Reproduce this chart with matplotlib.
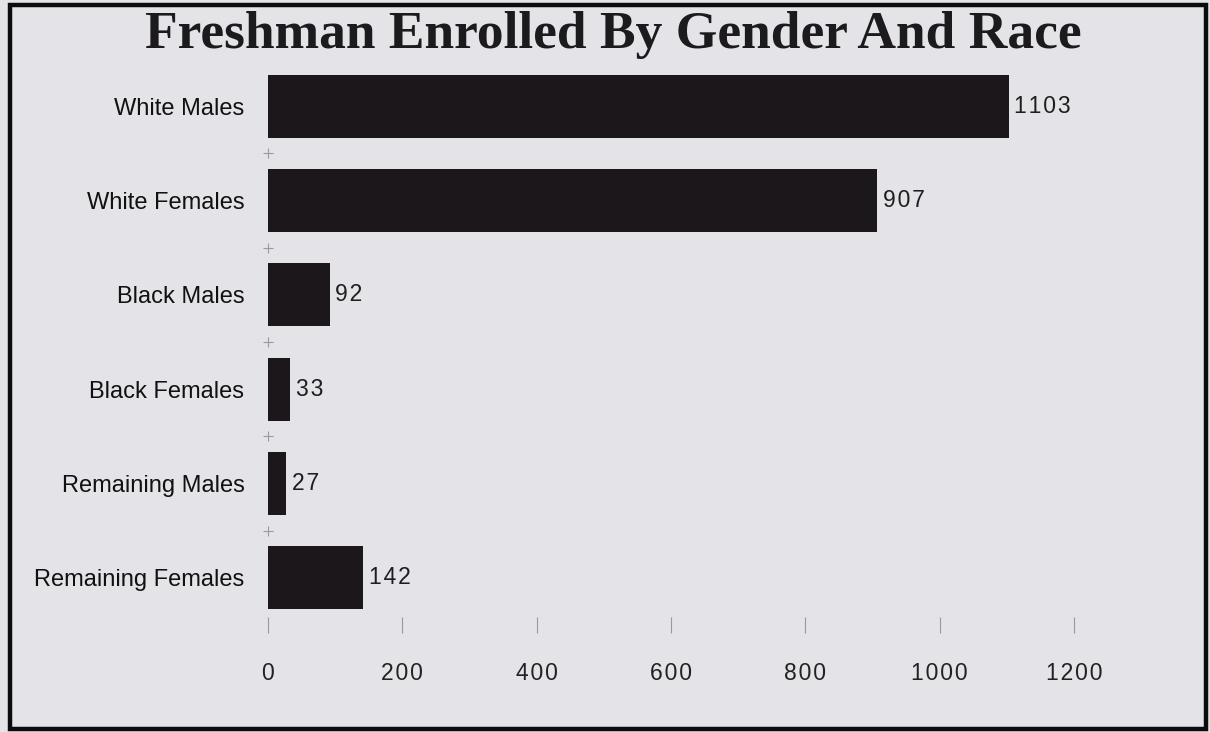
import matplotlib
matplotlib.use("Agg")
import matplotlib.pyplot as plt
from matplotlib.patches import Rectangle

# Enrollment counts for the freshman class
categories = ["White Males", "White Females", "Black Males",
              "Black Females", "Remaining Males", "Remaining Females"]
counts = [1103, 907, 92, 33, 27, 142]
x_ticks = [0, 200, 400, 600, 800, 1000, 1200]
title = "Freshman Enrolled By Gender And Race"

BG = "#e4e3e7"
BAR = "#1b171a"
TICK = "#9a9a9a"
SPACE = "\u200a"


def spaced(n):
    # widen the digit tracking a little
    return SPACE.join(str(n))


fig = plt.figure(figsize=(12.10, 7.32), dpi=100, facecolor=BG)
ax = fig.add_axes([268 / 1210, 1 - 625 / 732, (1074 - 268) / 1210, (625 - 59) / 732])
ax.set_facecolor(BG)

ypos = list(range(len(categories)))
ax.barh(ypos, counts, height=0.67, color=BAR, edgecolor="none")
ax.set_ylim(len(categories) - 0.5, -0.5)
ax.set_xlim(0, 1200)

num_font = ["Liberation Sans", "DejaVu Sans"]
for y, v in zip(ypos, counts):
    ax.text(v + 8, y, spaced(v), va="center", ha="left", fontsize=16.5,
            color="#1e1e1e", family=num_font)

ax.set_yticks(ypos)
ax.set_yticklabels(categories, fontsize=17, family="Liberation Sans", color="#111111")
ax.tick_params(axis="y", length=0, pad=17)

# small cross marks on the category boundaries
bounds = [i + 0.5 for i in ypos[:-1]]
ax.plot([0] * len(bounds), bounds, linestyle="none", marker="+", ms=7, mew=0.8,
        color=TICK, clip_on=False, zorder=0)

ax.set_xticks(x_ticks)
ax.set_xticklabels([spaced(t) for t in x_ticks], fontsize=16.5, family=num_font, color="#222222")
ax.tick_params(axis="x", length=11, direction="inout", color=TICK, width=0.8, pad=21)

for s in ax.spines.values():
    s.set_visible(False)

fig.text(0.507, 1 - 48 / 732, title, ha="center", va="baseline",
         fontsize=38.5, fontweight="bold", family="Liberation Serif", color="#1c1a1c")

fig.patches.append(Rectangle((9.5 / 1210, 3 / 732), (1206 - 9.5) / 1210, (727 - 3) / 732,
                             transform=fig.transFigure, fill=False,
                             edgecolor="#0c0c0c", linewidth=3.2))

fig.savefig("out.png", dpi=100, facecolor=BG)
